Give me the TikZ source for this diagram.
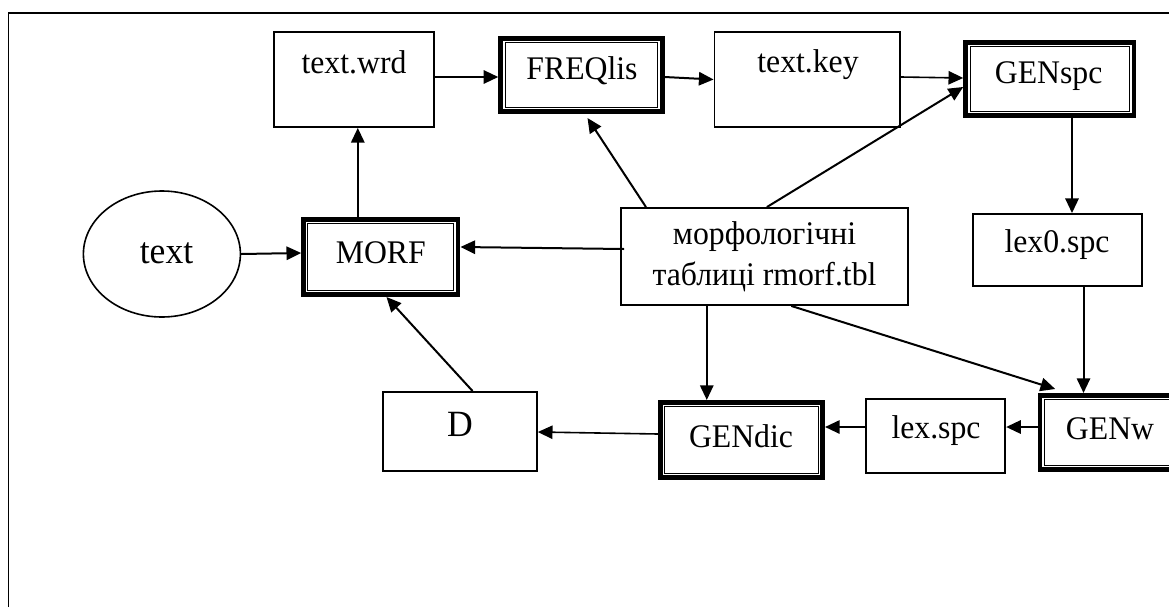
\documentclass[tikz,border=0pt]{standalone}
\usepackage{fontspec}
\usepackage{graphicx}
\setmainfont{Liberation Serif}
\usetikzlibrary{arrows.meta,shapes.geometric}

% plain box given by its corners (x1,y1)-(x2,y2)
\newcommand\plainbox[5]{%
  \node[plain, minimum width={(#4-#2)*0.75pt}, minimum height={(#5-#3)*0.75pt}]
    (#1) at ({(#2+#4)/2},{(#3+#5)/2}) {};}
% program box: thick outer frame with a thin inner frame
\newcommand\procbox[5]{%
  \node[proc, minimum width={(#4-#2-4.5)*0.75pt}, minimum height={(#5-#3-4.5)*0.75pt}]
    (#1) at ({(#2+#4)/2},{(#3+#5)/2}) {};
  \draw[line width=0.75pt] ([shift={(6.8,-6.8)}]#1.south west) rectangle ([shift={(-6.8,6.8)}]#1.north east);}
% slightly tall type
\newcommand\tall[1]{\scalebox{1}[1.04]{#1}}

\begin{document}
\begin{tikzpicture}[x=0.75pt,y=-0.75pt,
  plain/.style={draw, line width=1.4pt, inner sep=0pt},
  proc/.style={draw, line width=3.4pt, inner sep=0pt},
  lbl/.style={font=\fontsize{23.8}{29.25}\selectfont, inner sep=0pt},
  big/.style={font=\fontsize{26.7}{30}\selectfont, inner sep=0pt},
  conn/.style={line width=1.5pt, -{Triangle[length=11pt,width=10pt]}},
]
\useasboundingbox (0,0) rectangle (1169,607);

% frame
\draw[line width=1.2pt] (8.4,607) -- (8.4,13) -- (1169,13);

% boxes
\plainbox{wrd}{273.6}{32}{434.4}{127}
\procbox{freq}{498.3}{36}{664.5}{114}
\plainbox{key}{714.5}{32}{900}{127}
\procbox{genspc}{963.2}{40}{1136}{118}
\plainbox{morph}{620.6}{208}{907.6}{305}
\plainbox{lexo}{972.6}{214}{1142.4}{286}
\node[draw, line width=1.2pt, ellipse, minimum width={157*0.75pt}, minimum height={126*0.75pt}, inner sep=0pt] (text) at (161.9,254) {};
\procbox{morf}{301.2}{217}{460.4}{297}
\plainbox{dict}{382.7}{392}{536.9}{471}
\procbox{gendic}{658.1}{400}{825}{480}
\plainbox{lex}{866.2}{399}{1005.2}{473}
\procbox{genw}{1037.5}{393}{1185}{472}

% labels
\node[lbl] (wrdt) at (354,62.5) {\tall{text.wrd}};
\node[lbl] (freqt) at (582,71) {\tall{FREQlis}};
\node[lbl] (keyt) at (808,65) {\tall{text.key}};
\node[lbl] (genspct) at (1048.6,76.5) {\tall{GENspc}};
\node[lbl] (morft) at (380.8,252.5) {\tall{MORF}};
\node[big] (textt) at (166.5,253) {\tall{text}};
\node[lbl] (morpht) at (764.5,257) {\tall{\begin{tabular}{@{}c@{}}морфологічні\\таблиці rmorf.tbl\end{tabular}}};
\node[lbl] (lexot) at (1057,245) {\tall{lex0.spc}};
\node[big] (dictt) at (460,424.5) {\tall{D}};
\node[lbl] (gendict) at (741,436.5) {\tall{GENdic}};
\node[lbl] (lext) at (936,430.5) {\tall{lex.spc}};
\node[lbl] (genwt) at (1110,428.5) {\tall{GENw}};

% connectors
\draw[conn] (text.east) -- ([shift={(0,-4)}]morf.west);
\draw[conn] ([shift={(-23,0)}]morf.north) coordinate (mu) -- (mu |- wrd.south);
\draw[conn] ([shift={(0,-2.5)}]wrd.east) -- ([shift={(0,2)}]freq.west);
\draw[conn] ([shift={(0,2)}]freq.east) -- (key.west);
\draw[conn, line width=1.2pt] ([shift={(0,-2.5)}]key.east) -- ([shift={(0,-1)}]genspc.west);
\draw[conn] ([shift={(22.4,0)}]genspc.south) coordinate (gs) -- (gs |- lexo.north);
\draw[conn] ([shift={(26,0)}]lexo.south) coordinate (ls) -- (ls |- genw.north);
\draw[conn] ([shift={(0,-5.5)}]genw.west) -- ([shift={(0,-9)}]lex.east);
\draw[conn] ([shift={(0,-9)}]lex.west) -- ([shift={(0,-13)}]gendic.east);
\draw[conn, line width=1.2pt] ([shift={(0,-6)}]gendic.west) -- ([shift={(0,0.5)}]dict.east);
\draw[conn] ([shift={(12.8,0)}]dict.north) -- ([shift={(5.7,0)}]morf.south);
\draw[conn] ([shift={(4.4,-7.5)}]morph.west) -- ([shift={(0,-10)}]morf.east);
\draw[conn] ([shift={(26.3,0)}]morph.north west) -- ([shift={(-77,4)}]freq.south east);
\draw[conn] ([shift={(147.2,0)}]morph.north west) -- ([shift={(0,8)}]genspc.west);
\draw[conn] ([shift={(87.1,0)}]morph.south west) coordinate (ms) -- (ms |- gendic.north);
\draw[conn] ([shift={(171.6,0)}]morph.south west) -- ([shift={(17.7,-4)}]genw.north west);
\end{tikzpicture}
\end{document}
